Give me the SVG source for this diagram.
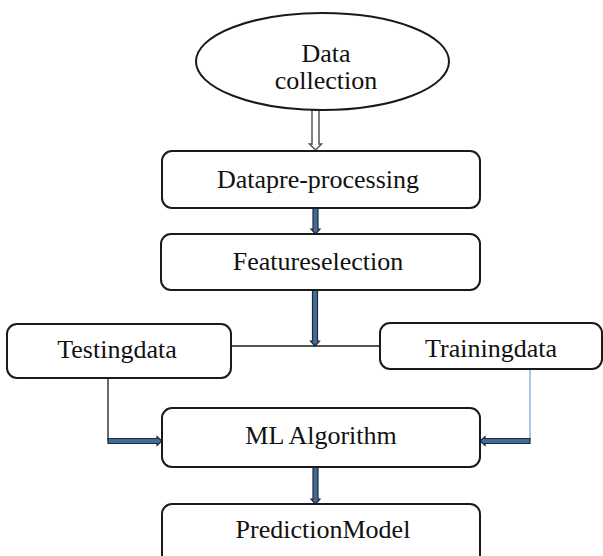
<svg xmlns="http://www.w3.org/2000/svg" width="603" height="556" viewBox="0 0 603 556">
  <style>
    .box { fill: #ffffff; stroke: #1a1a1a; stroke-width: 2; }
    .lbl { font-family: "Liberation Serif", "Times New Roman", serif; font-size: 26px; fill: #111111; text-anchor: middle; }
    .arr { fill: #416c98; stroke: #1e2a38; stroke-width: 1.2; stroke-linejoin: miter; }
    .hollow { fill: #ffffff; stroke: #555555; stroke-width: 1.5; }
    .line { fill: none; stroke: #1a1a1a; stroke-width: 1.3; }
    .line-blue { fill: none; stroke: #7aa9dc; stroke-width: 1.3; }
  </style>
  <rect width="603" height="556" fill="#ffffff"/>

  <!-- connectors -->
  <g id="connectors">
    <!-- Data collection -> Data pre-processing (outlined arrow) -->
    <polygon class="hollow" points="312,110 319,110 319,144 321.5,144 315.5,150 309.5,144 312,144"/>
    <!-- Data pre-processing -> Feature selection -->
    <polygon class="arr" points="313,208 318,208 318,229 320,229 315.5,234 311,229 313,229"/>
    <!-- Feature selection -> split junction -->
    <polygon class="arr" points="312.5,290 317.5,290 317.5,341 319.5,341 315,346 310.5,341 312.5,341"/>
    <!-- junction line between Testing and Training -->
    <line class="line" x1="231" y1="346" x2="380" y2="346"/>
    <!-- Testing data -> ML Algorithm -->
    <polyline class="line" points="108,378 108,441"/>
    <polygon class="arr" points="108,438.5 157,438.5 157,436.5 162,441 157,445.5 157,443.5 108,443.5"/>
    <!-- Training data -> ML Algorithm -->
    <polyline class="line-blue" points="530,369 530,441"/>
    <polygon class="arr" points="530,438.5 485,438.5 485,436.5 480,441 485,445.5 485,443.5 530,443.5"/>
    <!-- ML Algorithm -> Prediction Model -->
    <polygon class="arr" points="313,467 318,467 318,499 320,499 315.5,504 311,499 313,499"/>
  </g>

  <g id="data-collection">
    <ellipse class="box" cx="322.5" cy="61.5" rx="126.5" ry="48.5"/>
    <text class="lbl" x="326" y="62">Data</text>
    <text class="lbl" x="326" y="89">collection</text>
  </g>

  <g id="data-preprocessing">
    <rect class="box" x="162" y="151" width="318" height="57" rx="10"/>
    <text class="lbl" x="318" y="188">Datapre-processing</text>
  </g>

  <g id="feature-selection">
    <rect class="box" x="161" y="234" width="319" height="56" rx="10"/>
    <text class="lbl" x="318" y="270">Featureselection</text>
  </g>

  <g id="testing-data">
    <rect class="box" x="7" y="324" width="224" height="54" rx="10"/>
    <text class="lbl" x="117" y="358">Testingdata</text>
  </g>

  <g id="training-data">
    <rect class="box" x="380" y="323" width="222" height="46" rx="10"/>
    <text class="lbl" x="491" y="357">Trainingdata</text>
  </g>

  <g id="ml-algorithm">
    <rect class="box" x="162" y="408" width="318" height="59" rx="10"/>
    <text class="lbl" x="321" y="444">ML Algorithm</text>
  </g>

  <g id="prediction-model">
    <rect class="box" x="162" y="504" width="318" height="62" rx="10"/>
    <text class="lbl" x="323" y="538">PredictionModel</text>
  </g>
</svg>
